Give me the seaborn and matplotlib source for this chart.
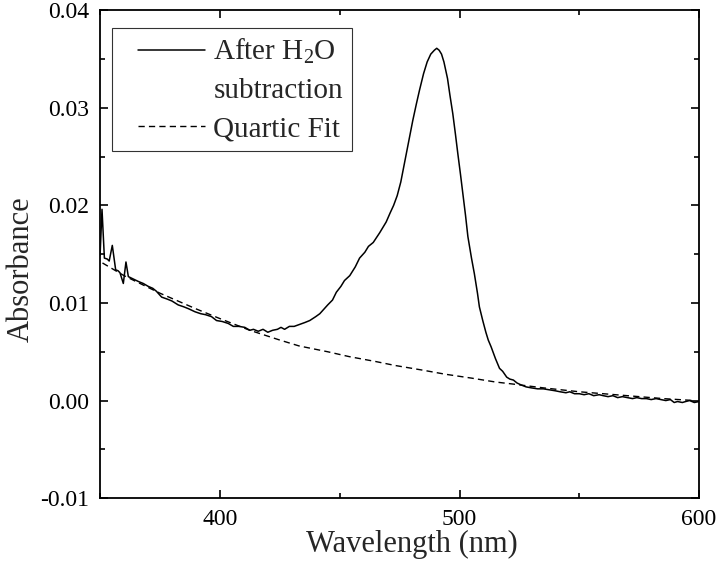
import numpy as np
import pandas as pd
import matplotlib
matplotlib.use("Agg")
import matplotlib.pyplot as plt
from matplotlib.lines import Line2D
from matplotlib.legend_handler import HandlerLine2D
from matplotlib.ticker import MultipleLocator
import seaborn as sns

# spectrum after water subtraction
wl = [350.0, 350.8, 351.8, 353.0, 353.8, 355.1, 356.5, 357.5, 358.3, 359.7,
      360.8, 361.8, 363.5, 366.0, 368.0, 370.1, 372.0, 373.5, 375.7, 378.0,
      380.0, 382.6, 385.0, 387.0, 389.6, 392.0, 394.0, 396.5, 398.6, 401.0,
      403.5, 405.6, 408.0, 410.4, 412.5, 414.0, 416.0, 418.0, 420.0, 422.0,
      424.0, 425.5, 427.0, 429.0, 431.0, 433.3, 435.5, 437.5, 440.0, 441.7,
      443.5, 445.0, 447.0, 448.6, 450.5, 452.0, 454.2, 456.5, 458.3, 460.5,
      462.0, 464.0, 466.7, 469.4, 471.0, 472.5, 474.0, 475.5, 477.0, 478.5,
      480.5, 482.0, 483.3, 485.0, 486.5, 488.0, 489.5, 490.5, 491.5, 492.5,
      493.5, 495.0, 496.0, 497.2, 498.3, 499.3, 500.4, 501.4, 502.5, 503.5,
      505.0, 506.2, 507.5, 508.3, 509.7, 511.0, 512.0, 513.2, 515.0, 516.7,
      518.0, 519.7, 521.0, 522.5, 524.0, 525.7, 527.8, 530.0, 532.6, 535.0,
      537.5, 540.0, 542.0, 544.4, 546.0, 548.0, 550.0, 552.0, 554.0, 556.0,
      558.3, 560.0, 562.0, 564.0, 566.0, 568.0, 570.0, 572.2, 574.0, 576.0,
      578.0, 580.0, 582.0, 584.0, 586.1, 588.0, 589.6, 591.0, 593.0, 594.4,
      596.0, 598.0, 600.0]
absorb = [0.0149, 0.0196, 0.0146, 0.0145, 0.0143, 0.0159, 0.0134, 0.0133, 0.0131, 0.0120,
          0.0142, 0.0127, 0.0125, 0.0122, 0.0120, 0.0117, 0.0115, 0.0112, 0.0106, 0.0104,
          0.0102, 0.0098, 0.0096, 0.0094, 0.0091, 0.0089, 0.0088, 0.0086, 0.0082, 0.0081,
          0.0079, 0.0076, 0.0076, 0.0075, 0.0072, 0.0073, 0.0071, 0.0073, 0.0070, 0.0072,
          0.0073, 0.0075, 0.0073, 0.0076, 0.0076, 0.0078, 0.0080, 0.0082, 0.0086, 0.0089,
          0.0094, 0.0098, 0.0103, 0.0111, 0.0117, 0.0123, 0.0128, 0.0137, 0.0146, 0.0152,
          0.0158, 0.0162, 0.0172, 0.0183, 0.0192, 0.0200, 0.0210, 0.0224, 0.0243, 0.0262,
          0.0287, 0.0304, 0.0318, 0.0335, 0.0347, 0.0355, 0.0359, 0.0361, 0.0359, 0.0355,
          0.0347, 0.0330, 0.0313, 0.0294, 0.0273, 0.0253, 0.0232, 0.0212, 0.0190, 0.0168,
          0.0146, 0.0130, 0.0110, 0.0096, 0.0082, 0.0070, 0.0062, 0.0055, 0.0043, 0.0033,
          0.0030, 0.0024, 0.0022, 0.0021, 0.0018, 0.0016, 0.0014, 0.0013, 0.0012, 0.0012,
          0.0011, 0.0010, 0.0009, 0.0008, 0.0009, 0.0007, 0.0007, 0.0006, 0.0007, 0.0005,
          0.0006, 0.0005, 0.0004, 0.0005, 0.0003, 0.0004, 0.0003, 0.0002, 0.0003, 0.0002,
          0.0002, 0.0001, 0.0002, 0.0001, 0.0000, 0.0001, -0.0002, -0.0001, -0.0002, -0.0001,
          0.0000, -0.0002, -0.0001]

# quartic fit baseline
fit_wl = [351, 360, 375, 390, 400, 412.5, 425, 433, 445, 454, 465, 473,
          485, 494, 505, 515, 522, 535, 550, 565, 575, 585, 598]
fit_abs = [0.0141, 0.0128, 0.0110, 0.0094, 0.0084, 0.0072, 0.0062, 0.0056, 0.0050,
           0.0045, 0.0040, 0.0036, 0.0031, 0.0027, 0.0023, 0.0019, 0.0017, 0.0013,
           0.0009, 0.0006, 0.0004, 0.0002, 0.0000]

sns.set_theme(style="ticks")
plt.rcParams["font.family"] = ["Liberation Serif", "DejaVu Serif"]
plt.rcParams["mathtext.fontset"] = "custom"
plt.rcParams["mathtext.rm"] = "Liberation Serif"
plt.rcParams["mathtext.it"] = "Liberation Serif:italic"

df = pd.DataFrame({"wl": wl, "A": absorb})
df_fit = pd.DataFrame({"wl": fit_wl, "A": fit_abs})

dash = (0, (4.5, 3))

fig = plt.figure(figsize=(7.2, 5.68), dpi=100)
ax = fig.add_axes([0.139, 0.123, 0.832, 0.859])

sns.lineplot(data=df, x="wl", y="A", ax=ax, color="black", lw=1.1,
             estimator=None, sort=False)
sns.lineplot(data=df_fit, x="wl", y="A", ax=ax, color="black", lw=1.0,
             estimator=None, sort=False, dashes=False, linestyle=dash)

ax.set_xlim(350, 600)
ax.set_ylim(-0.01, 0.04)
ax.xaxis.set_minor_locator(MultipleLocator(50))
ax.yaxis.set_minor_locator(MultipleLocator(0.005))
ax.set_xticks([400, 500, 600])
ax.set_yticks([-0.01, 0.0, 0.01, 0.02, 0.03, 0.04])
ax.set_yticklabels(["-0.01", "0.00", "0.01", "0.02", "0.03", "0.04"])
ax.tick_params(which="both", direction="in", top=True, right=True,
               labelsize=17, width=1.2, colors="black", pad=8)
ax.tick_params(which="major", length=6)
ax.tick_params(which="minor", length=3.5)
for s in ax.spines.values():
    s.set_linewidth(1.3)
    s.set_color("black")

ax.set_xlabel("Wavelength (nm)", fontsize=22, labelpad=0, x=0.52)
ax.set_ylabel("Absorbance", fontsize=22)
ax.yaxis.set_label_coords(-0.107, 0.47)

handles = [Line2D([], [], color="black", lw=1.1),
           Line2D([], [], color="none"),
           Line2D([], [], color="black", lw=1.0, linestyle=dash)]
labels = ["After H$_2$O", "subtraction", "Quartic Fit"]
hmap = {h: HandlerLine2D(xpad=0.58) for h in handles}
leg = ax.legend(handles, labels, handler_map=hmap, loc="upper left",
                bbox_to_anchor=(0.02, 0.963), fontsize=21, frameon=True,
                fancybox=False, handlelength=2.9, handletextpad=0.27,
                labelspacing=0.4, borderpad=0.3, borderaxespad=0)
leg.get_frame().set_edgecolor("black")
leg.get_frame().set_linewidth(0.8)

fig.savefig("out.png", dpi=100)
